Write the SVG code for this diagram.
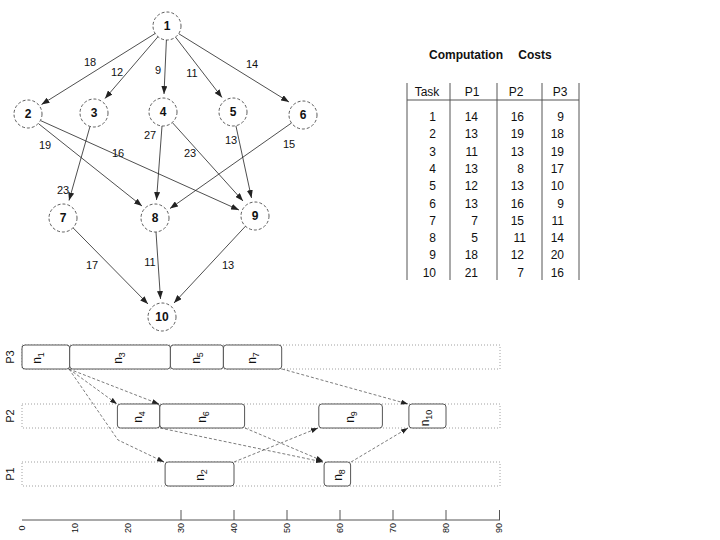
<svg xmlns="http://www.w3.org/2000/svg" width="720" height="540" viewBox="0 0 720 540">
<defs>
<marker id="ah" markerUnits="userSpaceOnUse" markerWidth="8" markerHeight="6" refX="8" refY="3" orient="auto">
<path d="M0,0 L8,3 L0,6 z" fill="#222"/>
</marker>
<marker id="ah2" markerUnits="userSpaceOnUse" markerWidth="7" markerHeight="5" refX="7" refY="2.5" orient="auto">
<path d="M0,0 L7,2.5 L0,5 z" fill="#222"/>
</marker>
<style>
text{font-family:"Liberation Sans",Arial,sans-serif;fill:#111}
.node circle{fill:#fff;stroke:#333;stroke-width:0.8;stroke-dasharray:3,2}
.node text{font-size:12px;font-weight:bold;text-anchor:middle}
.edge{stroke:#222;stroke-width:0.8;fill:none;marker-end:url(#ah)}
.elab{font-size:11px;text-anchor:middle}
.tbl line{stroke:#555;stroke-width:1}
.th{font-size:12px;text-anchor:middle}
.td{font-size:12px;text-anchor:end}
.row{fill:none;stroke:#888;stroke-width:0.8;stroke-dasharray:1,2}
.bar rect{fill:#fff;stroke:#555;stroke-width:1}
.bar text{font-size:12px;text-anchor:middle}
.gedge{stroke:#444;stroke-width:0.7;fill:none;stroke-dasharray:3,2;marker-end:url(#ah2)}
.plab{font-size:11px;text-anchor:middle}
.tick{font-size:9px;text-anchor:middle}
</style>
</defs>
<rect width="720" height="540" fill="#fff"/>

<!-- Task graph connectors -->
<g id="graph-edges">
<line class="edge" x1="155.2" y1="33.5" x2="41.5" y2="104.5"/>
<line class="edge" x1="158" y1="36.7" x2="105" y2="98.5"/>
<line class="edge" x1="166.4" y1="40" x2="164" y2="94"/>
<line class="edge" x1="175.5" y1="37.1" x2="222" y2="97.5"/>
<line class="edge" x1="178.7" y1="33.7" x2="289" y2="102"/>
<line class="edge" x1="38.8" y1="123.9" x2="142" y2="206"/>
<line class="edge" x1="40.8" y1="120.7" x2="239" y2="210"/>
<line class="edge" x1="90" y1="126.4" x2="69" y2="200.5"/>
<line class="edge" x1="162" y1="126" x2="156.5" y2="200"/>
<line class="edge" x1="172.3" y1="122.5" x2="243" y2="201"/>
<line class="edge" x1="235.9" y1="125.7" x2="251.5" y2="198"/>
<line class="edge" x1="291.5" y1="123" x2="170" y2="208.5"/>
<line class="edge" x1="73" y1="227.8" x2="148" y2="304"/>
<line class="edge" x1="156" y1="232" x2="160.5" y2="299"/>
<line class="edge" x1="245.5" y1="226.2" x2="174" y2="303"/>
</g>

<!-- Edge labels -->
<g id="edge-labels">
<text class="elab" x="90" y="66">18</text>
<text class="elab" x="117" y="76">12</text>
<text class="elab" x="158" y="74">9</text>
<text class="elab" x="192" y="77">11</text>
<text class="elab" x="252" y="68">14</text>
<text class="elab" x="45" y="149">19</text>
<text class="elab" x="118" y="157">16</text>
<text class="elab" x="150" y="139">27</text>
<text class="elab" x="190" y="157">23</text>
<text class="elab" x="231" y="144">13</text>
<text class="elab" x="289" y="148">15</text>
<text class="elab" x="63" y="194">23</text>
<text class="elab" x="92" y="269">17</text>
<text class="elab" x="150" y="266">11</text>
<text class="elab" x="228" y="269">13</text>
</g>

<!-- Nodes -->
<g id="node1" class="node"><circle cx="167" cy="26" r="14"/><text x="167" y="30">1</text></g>
<g id="node2" class="node"><circle cx="28" cy="114" r="14"/><text x="28" y="118">2</text></g>
<g id="node3" class="node"><circle cx="94" cy="113" r="14"/><text x="94" y="117">3</text></g>
<g id="node4" class="node"><circle cx="163" cy="112" r="14"/><text x="163" y="116">4</text></g>
<g id="node5" class="node"><circle cx="233" cy="112" r="14"/><text x="233" y="116">5</text></g>
<g id="node6" class="node"><circle cx="303" cy="115" r="14"/><text x="303" y="119">6</text></g>
<g id="node7" class="node"><circle cx="63" cy="218" r="14"/><text x="63" y="222">7</text></g>
<g id="node8" class="node"><circle cx="155" cy="218" r="14"/><text x="155" y="222">8</text></g>
<g id="node9" class="node"><circle cx="255" cy="216" r="14"/><text x="255" y="220">9</text></g>
<g id="node10" class="node"><circle cx="162" cy="317" r="14"/><text x="162" y="321">10</text></g>

<!-- Computation cost table -->
<g id="table" class="tbl">
<text x="466" y="59" style="font-size:12px;font-weight:bold;text-anchor:middle">Computation</text>
<text x="535" y="59" style="font-size:12px;font-weight:bold;text-anchor:middle">Costs</text>
<line x1="407" y1="83" x2="407" y2="280"/>
<line x1="450" y1="83" x2="450" y2="280"/>
<line x1="497" y1="83" x2="497" y2="280"/>
<line x1="542" y1="83" x2="542" y2="280"/>
<line x1="579" y1="83" x2="579" y2="280"/>
<line x1="407" y1="100" x2="579" y2="100"/>
<text class="th" x="427" y="96">Task</text>
<text class="th" x="472" y="96">P1</text>
<text class="th" x="516" y="96">P2</text>
<text class="th" x="560" y="96">P3</text>
<g>
<text class="td" x="436" y="121">1</text><text class="td" x="478" y="121">14</text><text class="td" x="524" y="121">16</text><text class="td" x="564" y="121">9</text>
<text class="td" x="436" y="138.3">2</text><text class="td" x="478" y="138.3">13</text><text class="td" x="524" y="138.3">19</text><text class="td" x="564" y="138.3">18</text>
<text class="td" x="436" y="155.6">3</text><text class="td" x="478" y="155.6">11</text><text class="td" x="524" y="155.6">13</text><text class="td" x="564" y="155.6">19</text>
<text class="td" x="436" y="172.9">4</text><text class="td" x="478" y="172.9">13</text><text class="td" x="524" y="172.9">8</text><text class="td" x="564" y="172.9">17</text>
<text class="td" x="436" y="190.2">5</text><text class="td" x="478" y="190.2">12</text><text class="td" x="524" y="190.2">13</text><text class="td" x="564" y="190.2">10</text>
<text class="td" x="436" y="207.5">6</text><text class="td" x="478" y="207.5">13</text><text class="td" x="524" y="207.5">16</text><text class="td" x="564" y="207.5">9</text>
<text class="td" x="436" y="224.8">7</text><text class="td" x="478" y="224.8">7</text><text class="td" x="524" y="224.8">15</text><text class="td" x="564" y="224.8">11</text>
<text class="td" x="436" y="242.1">8</text><text class="td" x="478" y="242.1">5</text><text class="td" x="526" y="242.1">11</text><text class="td" x="564" y="242.1">14</text>
<text class="td" x="436" y="259.4">9</text><text class="td" x="478" y="259.4">18</text><text class="td" x="524" y="259.4">12</text><text class="td" x="564" y="259.4">20</text>
<text class="td" x="436" y="276.7">10</text><text class="td" x="478" y="276.7">21</text><text class="td" x="524" y="276.7">7</text><text class="td" x="564" y="276.7">16</text>
</g>
</g>

<!-- Gantt chart -->
<g id="gantt-rows">
<rect class="row" x="22" y="345" width="478" height="24"/>
<rect class="row" x="22" y="404" width="478" height="24"/>
<rect class="row" x="22" y="462" width="478" height="24"/>
<text class="plab" transform="translate(14,357) rotate(-90)">P3</text>
<text class="plab" transform="translate(14,416) rotate(-90)">P2</text>
<text class="plab" transform="translate(14,474) rotate(-90)">P1</text>
</g>

<g id="bar-n1" class="bar"><rect x="22" y="345" width="47.7" height="24" rx="3"/><text transform="translate(41,358) rotate(-90)">n<tspan dy="3" font-size="9">1</tspan></text></g>
<g id="bar-n3" class="bar"><rect x="69.7" y="345" width="100.7" height="24" rx="3"/><text transform="translate(122,358) rotate(-90)">n<tspan dy="3" font-size="9">3</tspan></text></g>
<g id="bar-n5" class="bar"><rect x="170.4" y="345" width="53" height="24" rx="3"/><text transform="translate(200,358) rotate(-90)">n<tspan dy="3" font-size="9">5</tspan></text></g>
<g id="bar-n7" class="bar"><rect x="223.4" y="345" width="58.3" height="24" rx="3"/><text transform="translate(256,358) rotate(-90)">n<tspan dy="3" font-size="9">7</tspan></text></g>
<g id="bar-n4" class="bar"><rect x="117.4" y="404" width="42.4" height="24" rx="3"/><text transform="translate(142,417) rotate(-90)">n<tspan dy="3" font-size="9">4</tspan></text></g>
<g id="bar-n6" class="bar"><rect x="159.8" y="404" width="84.8" height="24" rx="3"/><text transform="translate(206,417) rotate(-90)">n<tspan dy="3" font-size="9">6</tspan></text></g>
<g id="bar-n9" class="bar"><rect x="318.8" y="404" width="63.6" height="24" rx="3"/><text transform="translate(354,417) rotate(-90)">n<tspan dy="3" font-size="9">9</tspan></text></g>
<g id="bar-n10" class="bar"><rect x="408.9" y="404" width="37.1" height="24" rx="3"/><text transform="translate(429,418) rotate(-90)">n<tspan dy="3" font-size="9">10</tspan></text></g>
<g id="bar-n2" class="bar"><rect x="165.1" y="462" width="68.9" height="24" rx="3"/><text transform="translate(204,475) rotate(-90)">n<tspan dy="3" font-size="9">2</tspan></text></g>
<g id="bar-n8" class="bar"><rect x="324.1" y="462" width="26.5" height="24" rx="3"/><text transform="translate(342,475) rotate(-90)">n<tspan dy="3" font-size="9">8</tspan></text></g>

<g id="gantt-edges">
<line class="gedge" x1="69" y1="369" x2="117" y2="404"/>
<line class="gedge" x1="69" y1="369" x2="159" y2="404"/>
<polyline class="gedge" points="69,369 118,440 164,462"/>
<line class="gedge" x1="160" y1="428" x2="323" y2="462"/>
<line class="gedge" x1="245" y1="428" x2="323" y2="461"/>
<line class="gedge" x1="234" y1="462" x2="318" y2="428"/>
<line class="gedge" x1="282" y1="369" x2="408" y2="404"/>
<line class="gedge" x1="351" y1="462" x2="408" y2="428"/>
</g>

<g id="axis">
<line x1="22" y1="520" x2="500" y2="520" stroke="#555" stroke-width="1"/>
<g stroke="#555" stroke-width="1">
<line x1="181" y1="510" x2="181" y2="520"/>
<line x1="234" y1="510" x2="234" y2="520"/>
<line x1="287" y1="510" x2="287" y2="520"/>
<line x1="340" y1="510" x2="340" y2="520"/>
<line x1="393" y1="510" x2="393" y2="520"/>
<line x1="446" y1="510" x2="446" y2="520"/>
<line x1="499.5" y1="510" x2="499.5" y2="520"/>
</g>
<text class="tick" transform="translate(25,528) rotate(-90)">0</text>
<text class="tick" transform="translate(78,528) rotate(-90)">10</text>
<text class="tick" transform="translate(131,528) rotate(-90)">20</text>
<text class="tick" transform="translate(184,528) rotate(-90)">30</text>
<text class="tick" transform="translate(237,528) rotate(-90)">40</text>
<text class="tick" transform="translate(290,528) rotate(-90)">50</text>
<text class="tick" transform="translate(343,528) rotate(-90)">60</text>
<text class="tick" transform="translate(396,528) rotate(-90)">70</text>
<text class="tick" transform="translate(449,528) rotate(-90)">80</text>
<text class="tick" transform="translate(502,528) rotate(-90)">90</text>
</g>
</svg>
